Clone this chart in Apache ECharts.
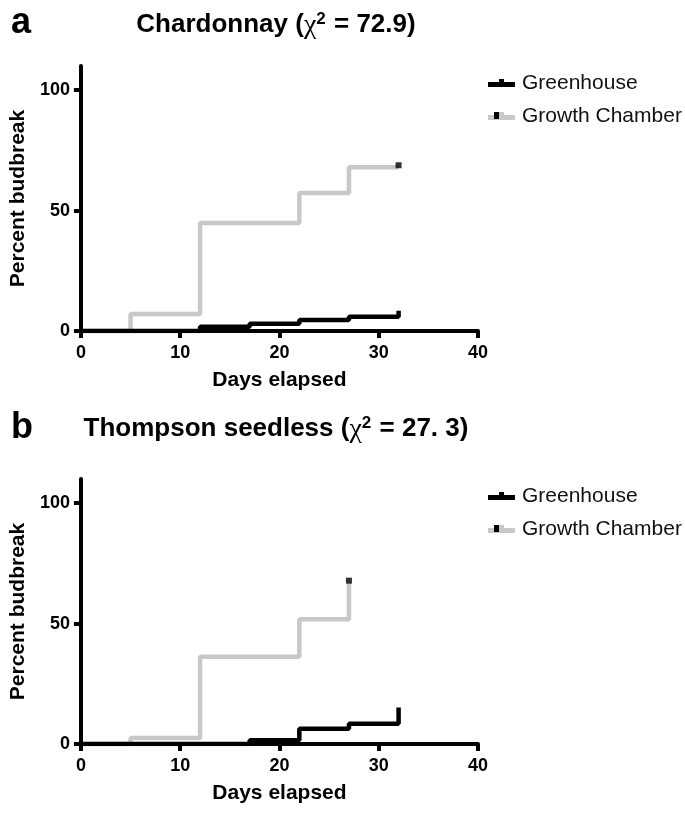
<!DOCTYPE html>
<html>
<head>
<meta charset="utf-8">
<script src="https://cdn.jsdelivr.net/npm/echarts@6/dist/echarts.min.js"></script>
<style>
html,body{margin:0;padding:0;background:#fff;}
#c{width:685px;height:817px;}
</style>
</head>
<body>
<div id="c"></div>
<script>
// ---- data ----
const xTicks = [0, 10, 20, 30, 40];
const yTicks = [0, 50, 100];
const seriesNames = ['Greenhouse', 'Growth Chamber'];

// (a) Chardonnay
const chardGreenhouseDays = [0, 12, 17, 22, 27, 32, 32];
const chardGreenhousePct  = [0, 1.8, 3.0, 4.6, 5.9, 5.9, 8.4];
const chardChamberDays    = [0, 5, 12, 22, 27, 32];
const chardChamberPct     = [0, 7.1, 44.8, 57.3, 68.0, 68.0];
const chardCensorDays     = [32];
const chardCensorPct      = [68.8];

// (b) Thompson seedless
const thompGreenhouseDays = [0, 17, 22, 27, 32, 32];
const thompGreenhousePct  = [0, 1.6, 6.3, 8.4, 8.4, 15.2];
const thompChamberDays    = [0, 5, 12, 22, 27];
const thompChamberPct     = [0, 2.5, 36.2, 51.8, 67.0];
const thompCensorDays     = [27];
const thompCensorPct      = [67.8];

const zip = (a, b) => a.map((v, i) => [v, b[i]]);

// ---- style / layout ----
const FONT = '"Liberation Sans", Arial, Helvetica, sans-serif';
const SERIF = '"Liberation Serif", "DejaVu Serif", serif';
const GRAY = '#c8c8c8';
const panels = [
  { letter: 'a', name: 'Chardonnay', stat: '72.9', top: 66, letterTop: 5, titleY: 25 },
  { letter: 'b', name: 'Thompson seedless', stat: '27. 3', top: 479, letterTop: 410, titleY: 429 }
];
const plotLeft = 78, plotWidth = 400, plotHeight = 265;

function xAxisCfg(i) {
  return {
    gridIndex: i, type: 'value', min: 0, max: 40, interval: 10, z: 5,
    name: 'Days elapsed', nameLocation: 'middle', nameGap: 39,
    nameTextStyle: { fontFamily: FONT, fontSize: 21, fontWeight: 'bold', color: '#000' },
    axisLine: { show: true, onZero: false, lineStyle: { color: '#000', width: 4 } },
    axisTick: { show: true, length: 7, lineStyle: { color: '#000', width: 4 }, customValues: xTicks },
    axisLabel: { fontFamily: FONT, fontSize: 18, fontWeight: 'bold', color: '#000', margin: 13, customValues: xTicks },
    splitLine: { show: false }
  };
}
function yAxisCfg(i) {
  return {
    gridIndex: i, type: 'value', min: 0, max: 110, interval: 50, z: 5,
    name: 'Percent budbreak', nameLocation: 'middle', nameGap: 50,
    nameTextStyle: { fontFamily: FONT, fontSize: 21, fontWeight: 'bold', color: '#000' },
    axisLine: { show: true, onZero: false, lineStyle: { color: '#000', width: 4 } },
    axisTick: { show: true, length: 7, lineStyle: { color: '#000', width: 4 }, customValues: yTicks },
    axisLabel: { fontFamily: FONT, fontSize: 18, fontWeight: 'bold', color: '#000', margin: 11, customValues: yTicks },
    splitLine: { show: false }
  };
}

const iconGH = 'path://M0,3 L11,3 L11,0 L16,0 L16,3 L27,3 L27,8 L0,8 Z';

const option = {
  animation: false,
  backgroundColor: '#fff',
  grid: panels.map(p => ({ left: plotLeft, top: p.top, width: plotWidth, height: plotHeight })),
  xAxis: [xAxisCfg(0), xAxisCfg(1)],
  yAxis: [yAxisCfg(0), yAxisCfg(1)],
  legend: panels.map(p => ({
    orient: 'vertical', left: 483, top: p.top,
    itemWidth: 27, itemHeight: 8, itemGap: 9,
    textStyle: { fontFamily: FONT, fontSize: 21, color: '#111', lineHeight: 24, padding: [0, 0, 0, 2] },
    data: [
      { name: seriesNames[0], icon: iconGH },
      { name: seriesNames[1], icon: iconGH }
    ]
  })),
  series: [
    { name: seriesNames[1], type: 'line', xAxisIndex: 0, yAxisIndex: 0, step: 'end', showSymbol: false, symbol: 'none',
      lineStyle: { color: GRAY, width: 4.5 }, itemStyle: { color: GRAY }, data: zip(chardChamberDays, chardChamberPct) },
    { name: seriesNames[0], type: 'line', xAxisIndex: 0, yAxisIndex: 0, step: 'end', showSymbol: false, symbol: 'none',
      lineStyle: { color: '#000', width: 4.5 }, itemStyle: { color: '#000' }, data: zip(chardGreenhouseDays, chardGreenhousePct) },
    { name: 'censored', type: 'scatter', xAxisIndex: 0, yAxisIndex: 0, symbol: 'rect', symbolSize: 6,
      itemStyle: { color: '#000' }, data: zip(chardCensorDays, chardCensorPct), z: 4 },
    { name: seriesNames[1], type: 'line', xAxisIndex: 1, yAxisIndex: 1, step: 'end', showSymbol: false, symbol: 'none',
      lineStyle: { color: GRAY, width: 4.5 }, itemStyle: { color: GRAY }, data: zip(thompChamberDays, thompChamberPct) },
    { name: seriesNames[0], type: 'line', xAxisIndex: 1, yAxisIndex: 1, step: 'end', showSymbol: false, symbol: 'none',
      lineStyle: { color: '#000', width: 4.5 }, itemStyle: { color: '#000' }, data: zip(thompGreenhouseDays, thompGreenhousePct) },
    { name: 'censored', type: 'scatter', xAxisIndex: 1, yAxisIndex: 1, symbol: 'rect', symbolSize: 6,
      itemStyle: { color: '#000' }, data: zip(thompCensorDays, thompCensorPct), z: 4 }
  ],
  graphic: []
};

panels.forEach(p => {
  option.graphic.push({
    type: 'text', left: 11, top: p.letterTop, z: 10,
    style: { text: p.letter, font: 'bold 36px ' + FONT, fill: '#000' }
  });
  option.graphic.push({
    type: 'text', x: plotLeft + plotWidth / 2 - 2, y: p.titleY, z: 10,
    style: {
      text: '{t|' + p.name + ' (}{c|χ}{s|2}{t| = ' + p.stat + ')}',
      align: 'center', verticalAlign: 'middle',
      rich: {
        t: { fontFamily: FONT, fontSize: 26, fontWeight: 'bold', fill: '#000', lineHeight: 32 },
        c: { fontFamily: SERIF, fontSize: 28, fill: '#000', lineHeight: 32, padding: [2, 0, 0, 0] },
        s: { fontFamily: FONT, fontSize: 17, fontWeight: 'bold', fill: '#000', lineHeight: 32, padding: [0, 1, 12, 0] }
      }
    }
  });
  // black censor square on the Growth Chamber legend icon
  option.graphic.push({
    type: 'rect', x: 494, y: p.top + 46, z: 100,
    shape: { x: 0, y: 0, width: 5, height: 7 }, style: { fill: '#000' }
  });
});

const chart = echarts.init(document.getElementById('c'), null, { renderer: 'canvas' });
chart.setOption(option);
</script>
</body>
</html>
